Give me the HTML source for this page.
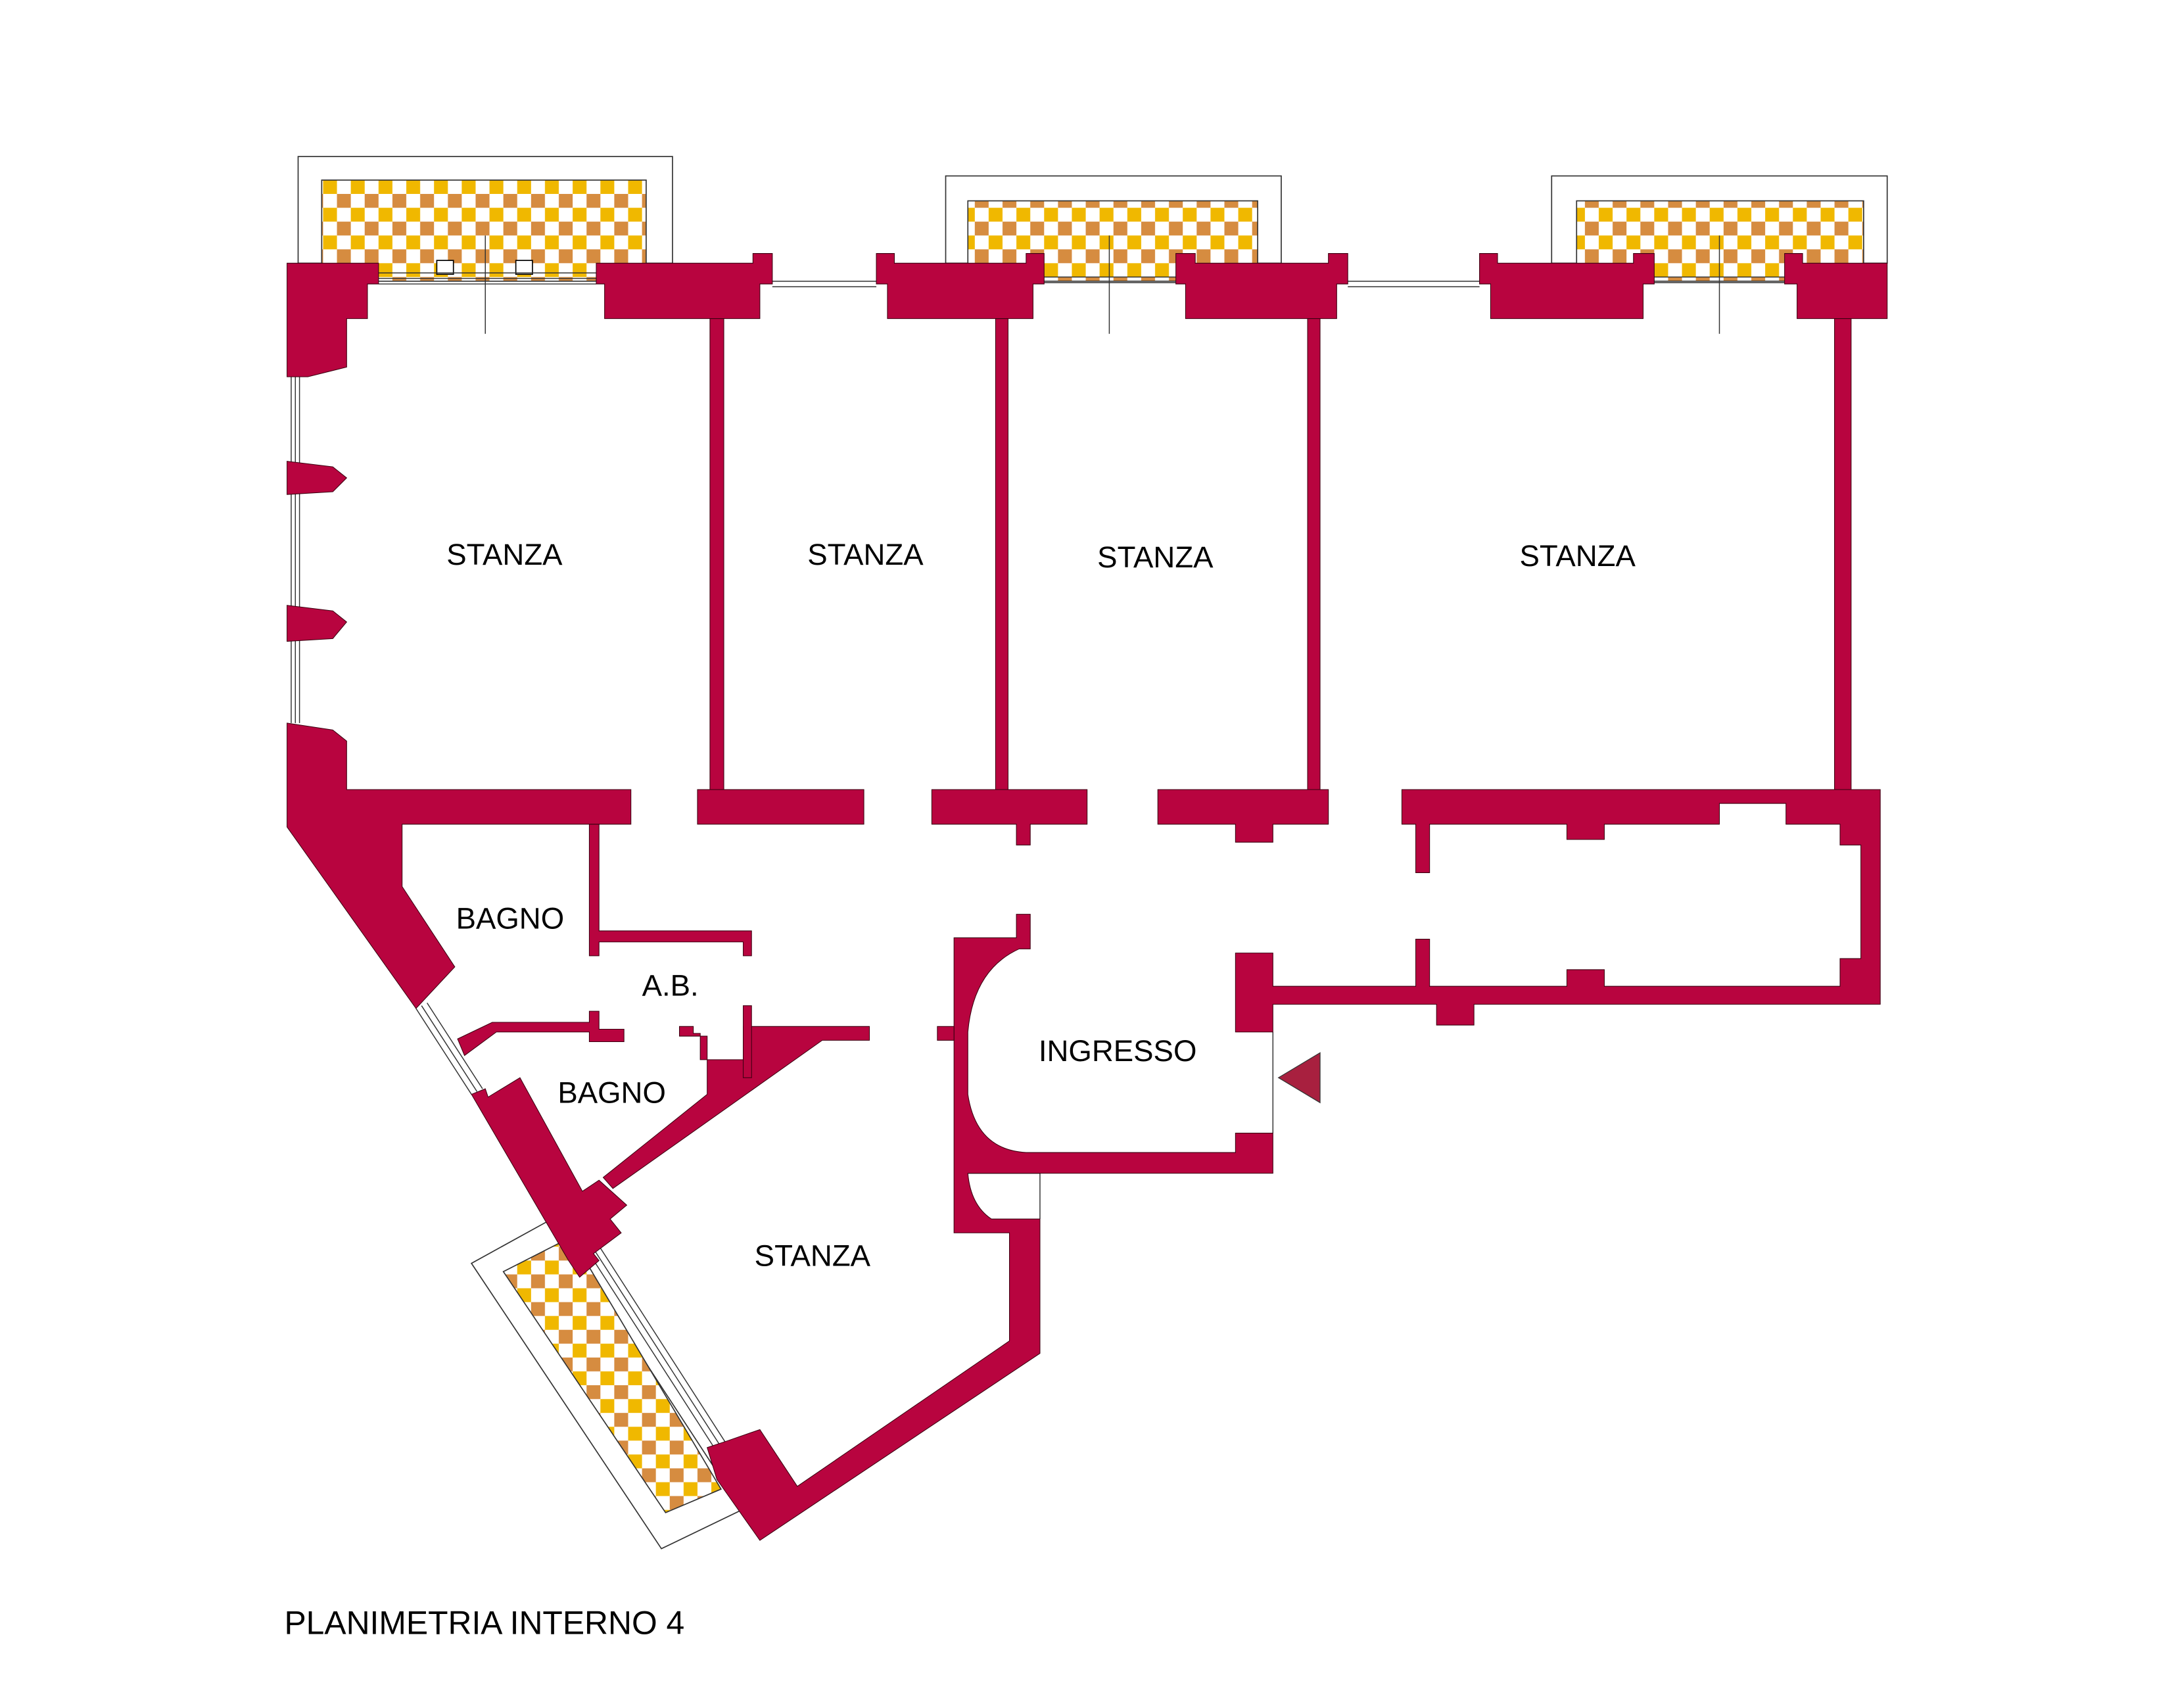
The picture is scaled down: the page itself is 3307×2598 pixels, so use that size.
<!DOCTYPE html>
<html><head><meta charset="utf-8"><style>
html,body{margin:0;padding:0;background:#fff}
svg{display:block}
text{font-family:"Liberation Sans",sans-serif;fill:#000}
</style></head><body>
<svg width="3307" height="2598" viewBox="0 0 1560 1225" preserveAspectRatio="none" xmlns="http://www.w3.org/2000/svg">
<defs>
<pattern id="ck" x="0" y="0" width="20" height="20" patternUnits="userSpaceOnUse">
<rect width="20" height="20" fill="#fff"/>
<rect x="3" y="0" width="10" height="10" fill="#D68C40"/>
<rect x="13" y="10" width="10" height="10" fill="#F0B800"/>
<rect x="-7" y="10" width="10" height="10" fill="#F0B800"/>
</pattern>
</defs>
<g transform="scale(0.995,0.9935)">
<g fill="none" stroke="#333" stroke-width="0.8">
<rect x="215" y="113" width="270" height="77"/>
<rect x="682" y="127" width="242" height="63"/>
<rect x="1119" y="127" width="242" height="63"/>
<polygon points="340,912 398,880 535,1090 477,1118"/>
</g>
<rect x="232" y="130" width="234" height="73" fill="url(#ck)" stroke="#333" stroke-width="0.8"/>
<rect x="698" y="145" width="209" height="58" fill="url(#ck)" stroke="#333" stroke-width="0.8"/>
<rect x="1137" y="145" width="207" height="58" fill="url(#ck)" stroke="#333" stroke-width="0.8"/>
<polygon points="363,918 412,893 520,1075 480,1092" fill="url(#ck)" stroke="#333" stroke-width="0.8"/>
<rect x="315" y="188" width="12" height="10" fill="#fff" stroke="#000" stroke-width="0.8"/>
<rect x="372" y="188" width="12" height="10" fill="#fff" stroke="#000" stroke-width="0.8"/>
<g stroke="#333" stroke-width="0.7">
<line x1="350" y1="170" x2="350" y2="241"/>
<line x1="800" y1="170" x2="800" y2="241"/>
<line x1="1240" y1="170" x2="1240" y2="241"/>
<line x1="273" y1="197" x2="430" y2="197"/><line x1="273" y1="201" x2="430" y2="201"/><line x1="273" y1="205" x2="430" y2="205"/>
<line x1="557" y1="203" x2="632" y2="203"/><line x1="557" y1="207" x2="632" y2="207"/>
<line x1="753" y1="200" x2="848" y2="200"/><line x1="753" y1="204" x2="848" y2="204"/>
<line x1="972" y1="203" x2="1067" y2="203"/><line x1="972" y1="207" x2="1067" y2="207"/>
<line x1="1193" y1="200" x2="1287" y2="200"/><line x1="1193" y1="204" x2="1287" y2="204"/>
<line x1="210" y1="272" x2="210" y2="522"/><line x1="213" y1="272" x2="213" y2="522"/><line x1="216" y1="272" x2="216" y2="522"/>
<line x1="300" y1="728" x2="340" y2="790"/><line x1="304" y1="726" x2="344" y2="788"/><line x1="308" y1="724" x2="348" y2="786"/>
<line x1="425" y1="905" x2="515" y2="1045"/><line x1="429" y1="903" x2="519" y2="1043"/><line x1="433" y1="901" x2="523" y2="1041"/>
<line x1="918" y1="745" x2="918" y2="818"/>
<line x1="698" y1="847" x2="750" y2="847"/><line x1="750" y1="847" x2="750" y2="880"/>
</g>
<g fill="#B8043F" stroke="#3a0010" stroke-width="0.5">
<polygon points="207,190 273,190 273,205 265,205 265,230 250,230 250,265 222,272 207,272"/>
<polygon points="207,333 240,337 250,345 240,355 207,357"/>
<polygon points="207,437 240,441 250,449 240,461 207,463"/>
<polygon points="207,522 240,527 250,535 250,570 455,570 455,595 290,595 290,640 328,698 300,728 207,597"/>
<polygon points="430,190 543,190 543,183 557,183 557,205 548,205 548,230 436,230 436,205 430,205"/>
<polygon points="632,183 645,183 645,190 740,190 740,183 753,183 753,205 745,205 745,230 640,230 640,205 632,205"/>
<polygon points="848,183 862,183 862,190 958,190 958,183 972,183 972,205 964,205 964,230 855,230 855,205 848,205"/>
<polygon points="1067,183 1080,183 1080,190 1178,190 1178,183 1193,183 1193,205 1185,205 1185,230 1075,230 1075,205 1067,205"/>
<polygon points="1287,183 1300,183 1300,190 1361,190 1361,230 1296,230 1296,205 1287,205"/>
<rect x="512" y="230" width="10" height="340"/>
<rect x="718" y="230" width="9" height="340"/>
<rect x="943" y="230" width="9" height="340"/>
<rect x="1323" y="230" width="12" height="340"/>
<rect x="503" y="570" width="120" height="25"/>
<polygon points="672,570 784,570 784,595 743,595 743,610 733,610 733,595 672,595"/>
<polygon points="835,570 958,570 958,595 918,595 918,608 891,608 891,595 835,595"/>
<path fill-rule="evenodd" d="M1011,570 L1356,570 L1356,725 L1063,725 L1063,740 L1036,740 L1036,725 L918,725 L918,745 L891,745 L891,688 L918,688 L918,712 L1021,712 L1021,678 L1031,678 L1031,712 L1130,712 L1130,700 L1157,700 L1157,712 L1327,712 L1327,692 L1342,692 L1342,610 L1327,610 L1327,595 L1288,595 L1288,580 L1240,580 L1240,595 L1157,595 L1157,606 L1130,606 L1130,595 L1031,595 L1031,630 L1021,630 L1021,595 L1011,595 Z"/>
<path d="M688,677 L733,677 L733,660 L743,660 L743,685 L735,685 Q702,700 698,745 L698,790 Q704,830 740,832 L891,832 L891,818 L918,818 L918,847 L698,847 Q700,870 715,880 L750,880 L750,977 L548,1112 L517,1068 L510,1045 L525,1040 L548,1032 L575,1073 L728,968 L728,890 L688,890 Z"/>
<rect x="676" y="741" width="12" height="10"/>
<polygon points="425,595 432,595 432,672 542,672 542,690 536,690 536,680 432,680 432,690 425,690"/>
<polygon points="330,750 355,738 425,738 425,730 432,730 432,743 450,743 450,752 425,752 425,745 358,745 335,762"/>
<polygon points="490,741 500,741 500,746 505,746 505,765 536,765 536,741 627,741 627,751 593,751 442,858 435,850 510,790 510,748 490,748"/>
<rect x="536" y="726" width="6" height="52"/>
<polygon points="340,790 350,786 352,792 375,778 420,860 432,852 452,870 440,880 448,890 428,905 432,910 418,922 410,910"/>
</g>
<polygon points="922,778 952,760 952,796" fill="#A8203F" stroke="#333" stroke-width="0.6"/>
</g>
<g font-size="21.5" text-anchor="middle">
<text x="362" y="405">STANZA</text>
<text x="621" y="405">STANZA</text>
<text x="829" y="407">STANZA</text>
<text x="1132" y="406">STANZA</text>
<text x="366" y="666">BAGNO</text>
<text x="481" y="714">A.B.</text>
<text x="439" y="791">BAGNO</text>
<text x="802" y="761">INGRESSO</text>
<text x="583" y="908">STANZA</text>
</g>
<text x="204" y="1172" font-size="23.5">PLANIMETRIA INTERNO 4</text>
</svg>
</body></html>
